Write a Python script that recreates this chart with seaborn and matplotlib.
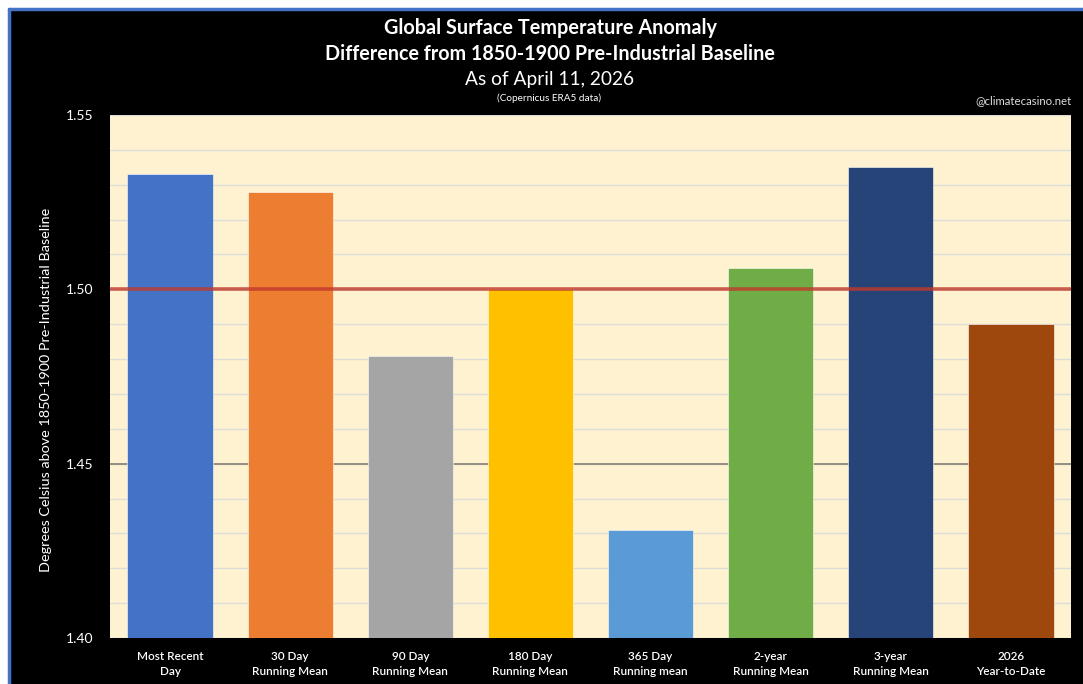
import matplotlib
matplotlib.use("Agg")
import matplotlib.pyplot as plt
from matplotlib.patches import Rectangle
from matplotlib.lines import Line2D
from matplotlib.ticker import MultipleLocator
import numpy as np
import pandas as pd
import seaborn as sns

# Anomaly values (deg C above 1850-1900 baseline)
categories = [
    "Most Recent\nDay",
    "30 Day\nRunning Mean",
    "90 Day\nRunning Mean",
    "180 Day\nRunning Mean",
    "365 Day\nRunning mean",
    "2-year\nRunning Mean",
    "3-year\nRunning Mean",
    "2026\nYear-to-Date",
]
anomalies = [1.533, 1.528, 1.481, 1.500, 1.431, 1.506, 1.535, 1.490]
bar_colors = ["#4472C4", "#ED7D31", "#A5A5A5", "#FFC000",
              "#5B9BD5", "#70AD47", "#264478", "#9E480E"]
y_ticks = [1.40, 1.45, 1.50, 1.55]
threshold = 1.50

sns.set_theme(style="white")
plt.rcParams["font.family"] = ["Lato", "DejaVu Sans"]

W, H = 1083, 684
fig = plt.figure(figsize=(W / 100, H / 100), dpi=100, facecolor="white")

# black panel with a thin blue frame on top/left
fig.patches.append(Rectangle((8 / W, 0), 1 - 8 / W, 1 - 8 / H, transform=fig.transFigure,
                             facecolor="black", edgecolor="none", zorder=-10))
fig.lines.append(Line2D([9 / W, 9 / W], [0, 1 - 9 / H], transform=fig.transFigure,
                        color="#4472C4", lw=2.5, zorder=-9))
fig.lines.append(Line2D([9 / W, 1], [1 - 9 / H, 1 - 9 / H], transform=fig.transFigure,
                        color="#4472C4", lw=2.5, zorder=-9))

left, right, top, bottom = 110, 1071, 115, 638
ax = fig.add_axes([left / W, 1 - bottom / H, (right - left) / W, (bottom - top) / H])
ax.set_facecolor("#FEF2D0")

df = pd.DataFrame({"period": categories, "anomaly": anomalies})
sns.barplot(data=df, x="period", y="anomaly", hue="period", palette=bar_colors,
            legend=False, width=0.71, saturation=1, ax=ax, zorder=3,
            edgecolor="#FFFFFF", linewidth=0.4)

ax.set_ylim(1.40, 1.55)
ax.set_xlim(-0.5, len(categories) - 0.5)
ax.set_yticks(y_ticks)
ax.set_yticklabels([f"{v:.2f}" for v in y_ticks], color="white", fontsize=10)
ax.yaxis.set_minor_locator(MultipleLocator(0.01))
ax.grid(axis="y", which="minor", color="#DCDDDA", lw=1.0, zorder=1)
ax.grid(axis="y", which="major", color="#DCDDDA", lw=1.0, zorder=1)
ax.axhline(1.45, color="#8C877A", lw=1.3, zorder=2)
ax.axhline(threshold, color="#C0392B", lw=2.6, alpha=0.8, zorder=5)

ax.tick_params(axis="both", which="both", length=0)
ax.tick_params(axis="x", pad=9)
ax.tick_params(axis="y", pad=12)
ax.set_xticks(range(len(categories)))
ax.set_xticklabels(categories, color="white", fontsize=8.5, fontweight="semibold",
                   linespacing=1.55)
ax.set_xlabel("")
ax.set_ylabel("Degrees Celsius above 1850-1900 Pre-Industrial Baseline",
              color="white", fontsize=10.4)
ax.yaxis.set_label_coords(-0.060, 0.474)
for s in ax.spines.values():
    s.set_visible(False)

cx = 550 / W
fig.text(cx, 1 - 28 / H, "Global Surface Temperature Anomaly", ha="center", va="center",
         color="white", fontsize=14.3, fontweight="bold")
fig.text(cx, 1 - 54 / H, "Difference from 1850-1900 Pre-Industrial Baseline", ha="center",
         va="center", color="white", fontsize=14.2, fontweight="bold")
fig.text(cx, 1 - 79 / H, "As of April 11, 2026", ha="center", va="center",
         color="white", fontsize=13.8)
fig.text(549 / W, 1 - 98 / H, "(Copernicus ERA5 data)", ha="center", va="center",
         color="white", fontsize=7.2)
fig.text(1024 / W, 1 - 101 / H, "@climatecasino.net", ha="center", va="center",
         color="#DDDDDD", fontsize=8.2)

fig.savefig("out.png", dpi=100, facecolor=fig.get_facecolor())
